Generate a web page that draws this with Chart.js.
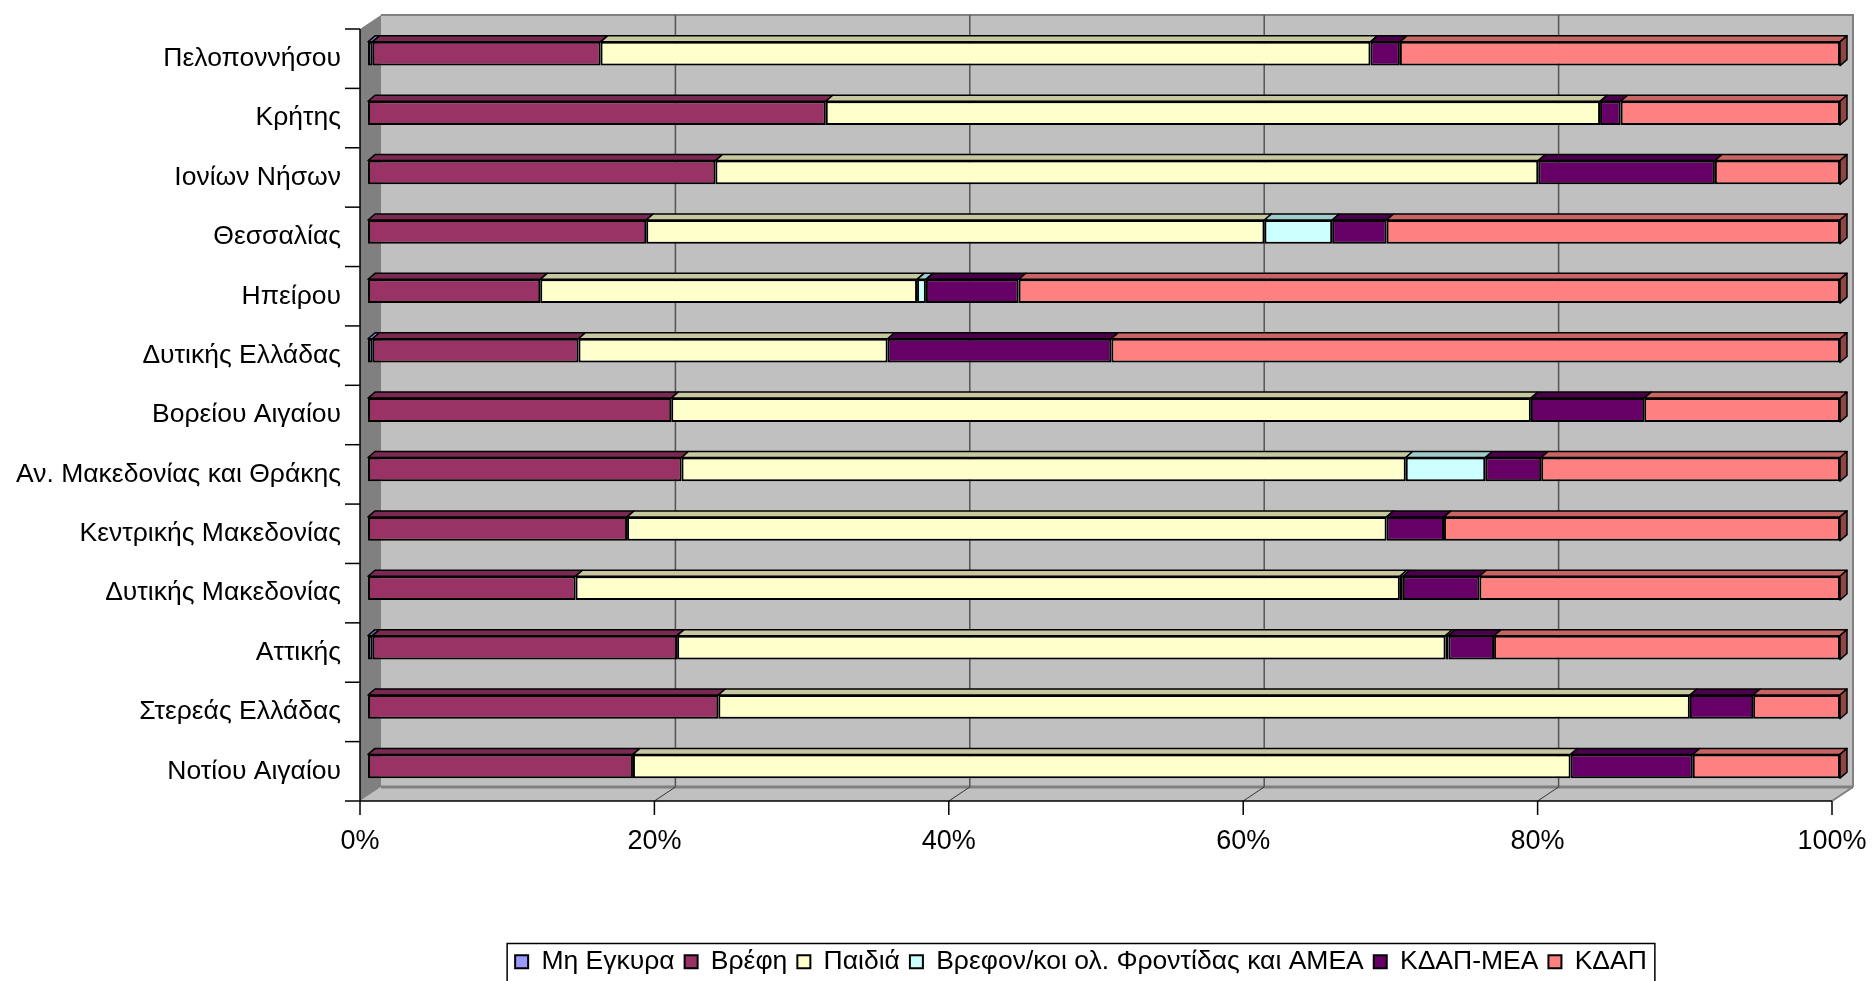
<!DOCTYPE html>
<html>
<head>
<meta charset="utf-8">
<script src="https://cdn.jsdelivr.net/npm/chart.js@4/dist/chart.umd.min.js"></script>
<style>
  html, body { margin: 0; padding: 0; background: #fff; }
  canvas { display: block; }
</style>
</head>
<body>
<canvas id="regionChart" width="1876" height="981"></canvas>
<script>
// περιφέρειες (από πάνω προς τα κάτω)
var categories = ["Πελοποννήσου", "Κρήτης", "Ιονίων Νήσων", "Θεσσαλίας", "Ηπείρου", "Δυτικής Ελλάδας",
  "Βορείου Αιγαίου", "Αν. Μακεδονίας και Θράκης", "Κεντρικής Μακεδονίας", "Δυτικής Μακεδονίας",
  "Αττικής", "Στερεάς Ελλάδας", "Νοτίου Αιγαίου"];

// ποσοστά %
var meEgkyra   = [0.3, 0, 0, 0, 0, 0.3, 0, 0, 0, 0, 0.3, 0, 0];
var vrefi      = [15.5, 31.1, 23.6, 18.9, 11.7, 14.0, 20.6, 21.3, 17.6, 14.1, 20.7, 23.8, 18.0];
var paidia     = [52.3, 52.6, 55.9, 42.0, 25.6, 21.0, 58.4, 49.2, 51.6, 56.0, 52.2, 66.0, 63.7];
var vrefonAmea = [0, 0, 0, 4.6, 0.6, 0, 0, 5.4, 0, 0.2, 0.2, 0, 0];
var kdapMea    = [2.0, 1.4, 12.0, 3.7, 6.3, 15.2, 7.7, 3.8, 3.9, 5.2, 3.1, 4.3, 8.3];
var kdap       = [29.9, 14.9, 8.5, 30.8, 55.8, 49.5, 13.3, 20.3, 26.9, 24.5, 23.5, 5.9, 10.0];

var seriesNames = ["Μη Εγκυρα", "Βρέφη", "Παιδιά", "Βρεφον/κοι ολ. Φροντίδας και ΑΜΕΑ", "ΚΔΑΠ-ΜΕΑ", "ΚΔΑΠ"];
var xTicks = [0, 20, 40, 60, 80, 100];

var fillCols = ["#9999FF", "#993366", "#FFFFCC", "#CCFFFF", "#660066", "#FF8080"];
var topCols  = ["#7A7ACC", "#7A2952", "#C8C8A0", "#A0CCCC", "#4A004A", "#C86464"];
var sideCols = ["#5C5C99", "#5C1F3D", "#99997A", "#7A9999", "#330033", "#8C4646"];

var allSeries = [meEgkyra, vrefi, paidia, vrefonAmea, kdapMea, kdap];

var FONT = "'Liberation Sans', Arial, Helvetica, sans-serif";
var OFF_X = 8, OFF_Y = 5;     // bars sit a little behind the front axis
var WALL_X = 21, WALL_Y = 14; // depth of the back wall
var BAR_DX = 7, BAR_DY = 6;   // depth of each bar
var LEGEND_CX = 1081;         // legend is not centred on the canvas

var threeD = {
  id: 'threeD',
  afterLayout: function(chart) {
    // move the legend to the right like in the original
    var lg = chart.legend;
    if (!lg || !lg.lineWidths) return;
    var pad = lg.options.labels.padding;
    var start = (lg.left + pad + lg.right - lg.lineWidths[0]) / 2;
    var cx = start + (lg.lineWidths[0] - pad) / 2;
    var d = LEGEND_CX - cx;
    lg.left += d;
    lg.right += d;
    lg.top += 4;
    lg.bottom += 4;
  },
  beforeDatasetsDraw: function(chart) {
    var ctx = chart.ctx, a = chart.chartArea;
    var x0 = a.left - OFF_X, x1 = a.right - OFF_X, yT = a.top + OFF_Y, yB = a.bottom + OFF_Y;
    ctx.save();
    // back wall
    ctx.fillStyle = '#C0C0C0';
    ctx.fillRect(x0 + WALL_X, yT - WALL_Y, x1 - x0, yB - yT);
    ctx.strokeStyle = '#808080';
    ctx.lineWidth = 2;
    ctx.beginPath();
    ctx.moveTo(x0 + WALL_X, yT - WALL_Y);
    ctx.lineTo(x1 + WALL_X, yT - WALL_Y);
    ctx.lineTo(x1 + WALL_X, yB - WALL_Y);
    ctx.stroke();
    // floor
    ctx.fillStyle = '#C0C0C0';
    ctx.beginPath();
    ctx.moveTo(x0, yB);
    ctx.lineTo(x0 + WALL_X, yB - WALL_Y);
    ctx.lineTo(x1 + WALL_X, yB - WALL_Y);
    ctx.lineTo(x1, yB);
    ctx.closePath();
    ctx.fill();
    ctx.strokeStyle = '#808080';
    ctx.lineWidth = 3;
    ctx.beginPath();
    ctx.moveTo(x0 + WALL_X, yB - WALL_Y);
    ctx.lineTo(x1 + WALL_X, yB - WALL_Y);
    ctx.stroke();
    ctx.lineWidth = 2;
    ctx.beginPath();
    ctx.moveTo(x1, yB);
    ctx.lineTo(x1 + WALL_X, yB - WALL_Y);
    ctx.stroke();
    // left side wall
    ctx.fillStyle = '#808080';
    ctx.beginPath();
    ctx.moveTo(x0, yT);
    ctx.lineTo(x0 + WALL_X, yT - WALL_Y);
    ctx.lineTo(x0 + WALL_X, yB - WALL_Y);
    ctx.lineTo(x0, yB);
    ctx.closePath();
    ctx.fill();
    // gridlines on wall and floor
    var xs = chart.scales.x;
    xTicks.forEach(function(v) {
      if (v === 0 || v === 100) return;
      var px = xs.getPixelForValue(v) - OFF_X;
      ctx.strokeStyle = '#555555';
      ctx.lineWidth = 1.5;
      ctx.beginPath();
      ctx.moveTo(px + WALL_X, yT - WALL_Y);
      ctx.lineTo(px + WALL_X, yB - WALL_Y);
      ctx.stroke();
      ctx.strokeStyle = '#333333';
      ctx.lineWidth = 1;
      ctx.beginPath();
      ctx.moveTo(px, yB);
      ctx.lineTo(px + WALL_X, yB - WALL_Y);
      ctx.stroke();
    });
    // front axes
    ctx.strokeStyle = '#000000';
    ctx.lineWidth = 1.5;
    ctx.beginPath();
    ctx.moveTo(x0, yT);
    ctx.lineTo(x0, yB);
    ctx.lineTo(x1, yB);
    ctx.stroke();
    var step = (yB - yT) / categories.length;
    for (var k = 0; k <= categories.length; k++) {
      var ty = yT + k * step;
      ctx.beginPath();
      ctx.moveTo(x0 - 15, ty);
      ctx.lineTo(x0, ty);
      ctx.stroke();
    }
    xTicks.forEach(function(v) {
      var px = xs.getPixelForValue(v) - OFF_X;
      ctx.beginPath();
      ctx.moveTo(px, yB);
      ctx.lineTo(px, yB + 14);
      ctx.stroke();
    });
    ctx.restore();
  },
  afterDatasetsDraw: function(chart) {
    var ctx = chart.ctx;
    ctx.save();
    ctx.strokeStyle = '#000000';
    ctx.lineWidth = 1.5;
    ctx.lineJoin = 'round';
    for (var j = 0; j < categories.length; j++) {
      var last = -1;
      for (var i = 0; i < allSeries.length; i++) {
        var el = chart.getDatasetMeta(i).data[j];
        if (!el || !allSeries[i][j]) continue;
        var p = el.getProps(['x', 'y', 'base', 'height'], true);
        var top = p.y - p.height / 2;
        ctx.fillStyle = topCols[i];
        ctx.beginPath();
        ctx.moveTo(p.base, top);
        ctx.lineTo(p.x, top);
        ctx.lineTo(p.x + BAR_DX, top - BAR_DY);
        ctx.lineTo(p.base + BAR_DX, top - BAR_DY);
        ctx.closePath();
        ctx.fill();
        ctx.stroke();
        last = i;
      }
      if (last >= 0) {
        var e = chart.getDatasetMeta(last).data[j].getProps(['x', 'y', 'height'], true);
        var t = e.y - e.height / 2, b = e.y + e.height / 2;
        ctx.fillStyle = sideCols[last];
        ctx.beginPath();
        ctx.moveTo(e.x, t);
        ctx.lineTo(e.x + BAR_DX, t - BAR_DY);
        ctx.lineTo(e.x + BAR_DX, b - BAR_DY);
        ctx.lineTo(e.x, b);
        ctx.closePath();
        ctx.fill();
        ctx.stroke();
      }
    }
    ctx.restore();
  },
  afterDraw: function(chart) {
    var lg = chart.legend;
    if (!lg || !lg.legendHitBoxes || !lg.legendHitBoxes.length) return;
    var boxes = lg.legendHitBoxes;
    var l = Infinity, r = -Infinity, t = Infinity;
    boxes.forEach(function(h) {
      l = Math.min(l, h.left);
      r = Math.max(r, h.left + h.width);
      t = Math.min(t, h.top);
    });
    var ctx = chart.ctx;
    ctx.save();
    ctx.strokeStyle = '#000000';
    ctx.lineWidth = 1.5;
    ctx.strokeRect(l - 8, t - 5, r - l + 16, chart.height - t + 10);
    ctx.restore();
  }
};

var datasets = seriesNames.map(function(name, i) {
  return {
    label: name,
    data: allSeries[i],
    backgroundColor: fillCols[i],
    borderColor: '#000000',
    borderWidth: 2,
    borderSkipped: false,
    barPercentage: 0.4,
    categoryPercentage: 1.0
  };
});

var ctx = document.getElementById("regionChart").getContext("2d");
var regionChart = new Chart(ctx, {
  type: 'bar',
  data: { labels: categories, datasets: datasets },
  options: {
    indexAxis: 'y',
    responsive: false,
    animation: false,
    devicePixelRatio: 1,
    layout: { padding: { left: 0, right: 36, top: 24, bottom: 0 } },
    scales: {
      x: {
        stacked: true,
        min: 0,
        max: 100,
        grid: { display: false, drawTicks: false },
        border: { display: false },
        afterBuildTicks: function(s) { s.ticks = xTicks.map(function(v) { return { value: v }; }); },
        afterFit: function(s) {
          s.height = s.chart.height - 796 - s.chart.legend.height;
          s.paddingLeft = 0;
          s.paddingRight = 0;
        },
        ticks: {
          color: '#000',
          font: { family: FONT, size: 27 },
          padding: 29,
          labelOffset: -OFF_X,
          maxRotation: 0,
          callback: function(v) { return v + '%'; }
        }
      },
      y: {
        stacked: true,
        grid: { display: false, drawTicks: false },
        border: { display: false },
        afterFit: function(s) {
          s.width = 368;
          s.paddingTop = 0;
          s.paddingBottom = 0;
        },
        ticks: {
          color: '#000',
          font: { family: FONT, size: 26.5 },
          padding: 27,
          labelOffset: OFF_Y,
          autoSkip: false
        }
      }
    },
    plugins: {
      legend: {
        position: 'bottom',
        labels: {
          color: '#000',
          font: { family: FONT, size: 26.5 },
          boxWidth: 13,
          boxHeight: 13,
          padding: 10
        }
      },
      tooltip: { enabled: false }
    }
  },
  plugins: [threeD]
});
</script>
</body>
</html>
